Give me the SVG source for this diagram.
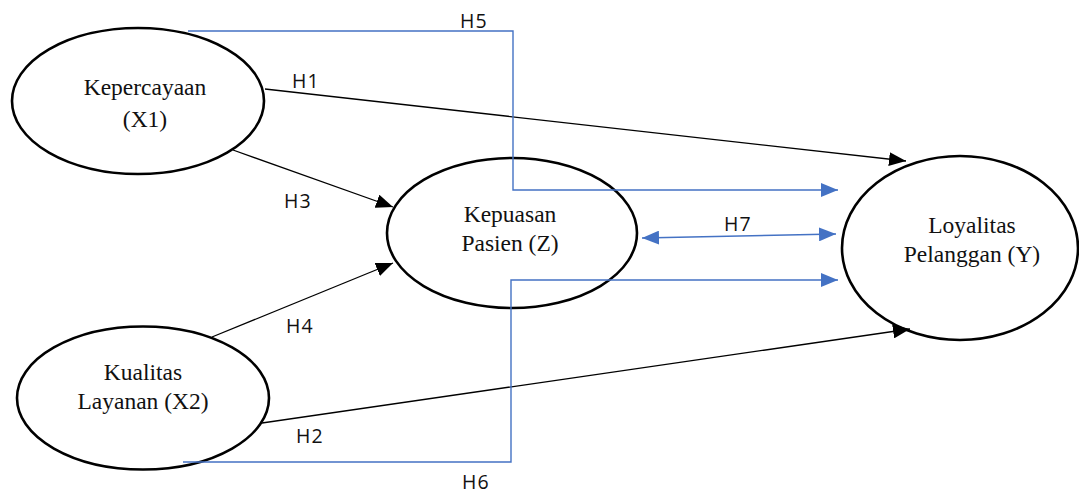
<svg xmlns="http://www.w3.org/2000/svg" width="1079" height="495" viewBox="0 0 1079 495">
<style>
.node{fill:none;stroke:#000;stroke-width:2.6}
.lbl{font-family:"Liberation Serif","Times New Roman",serif;font-size:23.5px;fill:#111;text-anchor:middle}
.h{font-family:"Open Sans","Liberation Sans",sans-serif;font-size:19.5px;fill:#111;letter-spacing:1px}
.blk{fill:none;stroke:#000;stroke-width:1.3}
.blu{fill:none;stroke:#4472C4;stroke-width:1.4}
</style>
<defs>
<marker id="ab" markerUnits="userSpaceOnUse" markerWidth="18" markerHeight="14" refX="17" refY="7" orient="auto"><path d="M0,0 L17,7 L0,14 z" fill="#000"/></marker>
<marker id="au" markerUnits="userSpaceOnUse" markerWidth="18" markerHeight="14" refX="17" refY="7" orient="auto-start-reverse"><path d="M0,0 L17,7 L0,14 z" fill="#4472C4"/></marker>
</defs>
<g id="x1"><ellipse class="node" cx="138" cy="101" rx="126" ry="73"/><text class="lbl" x="145" y="95">Kepercayaan</text><text class="lbl" x="145" y="127">(X1)</text></g>
<g id="z"><ellipse class="node" cx="512" cy="233" rx="125" ry="75"/><text class="lbl" x="510" y="222">Kepuasan</text><text class="lbl" x="510" y="251">Pasien (Z)</text></g>
<g id="y"><ellipse class="node" cx="960" cy="248" rx="118" ry="92"/><text class="lbl" x="972" y="233">Loyalitas</text><text class="lbl" x="972" y="262">Pelanggan (Y)</text></g>
<g id="x2"><ellipse class="node" cx="143" cy="398" rx="126" ry="71.5"/><text class="lbl" x="143" y="380">Kualitas</text><text class="lbl" x="143" y="409">Layanan (X2)</text></g>
<g id="connectors">
<line class="blk" x1="265" y1="89" x2="906" y2="161" marker-end="url(#ab)"/>
<line class="blk" x1="233" y1="150" x2="393" y2="207" marker-end="url(#ab)"/>
<line class="blk" x1="212" y1="337" x2="393" y2="263" marker-end="url(#ab)"/>
<line class="blk" x1="262" y1="423" x2="910" y2="329" marker-end="url(#ab)"/>
<polyline class="blu" points="188,31 513,31 513,190 838,190" marker-end="url(#au)"/>
<polyline class="blu" points="183,462 511,462 511,280 838,280" marker-end="url(#au)"/>
<line class="blu" x1="642" y1="238" x2="836" y2="234" marker-start="url(#au)" marker-end="url(#au)"/>
<text class="h" x="292" y="88">H1</text>
<text class="h" x="296" y="443">H2</text>
<text class="h" x="284" y="208">H3</text>
<text class="h" x="286" y="333">H4</text>
<text class="h" x="460" y="28">H5</text>
<text class="h" x="462" y="489">H6</text>
<text class="h" x="724" y="231">H7</text>
</g>
</svg>
